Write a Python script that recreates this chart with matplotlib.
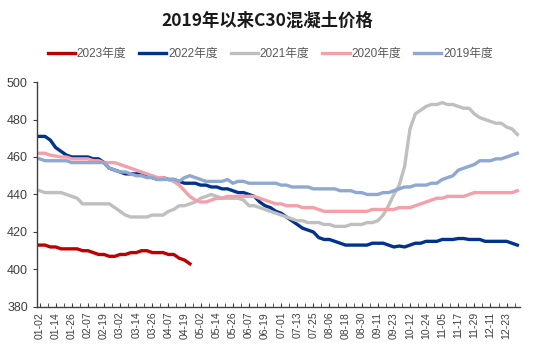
import numpy as np
import matplotlib
matplotlib.use("Agg")
import matplotlib.pyplot as plt
from matplotlib.ticker import MultipleLocator

plt.rcParams['font.family'] = ['Liberation Sans', 'Noto Sans CJK SC']

# 刻度标签（每12个交易日一个）
tick_labels = ['01-02', '01-14', '01-26', '02-07', '02-19', '03-02', '03-14', '03-26',
               '04-07', '04-19', '05-02', '05-14', '05-26', '06-07', '06-19', '07-01',
               '07-13', '07-25', '08-06', '08-18', '08-30', '09-11', '09-23', '10-12',
               '10-24', '11-05', '11-17', '11-29', '12-11', '12-23']

# 每4个交易日取一个读数
price_2023 = [413, 413, 412, 412, 411, 411, 411, 411, 410, 410, 409, 408, 408, 407, 407,
              408, 408, 409, 409, 410, 410, 409, 409, 409, 408, 408, 406, 405, 403]

price_2022 = [471, 471, 469, 465, 463, 461, 460, 460, 460, 460, 459, 459, 457, 454, 453,
              452, 451, 451, 451, 451, 450, 449, 448, 449, 448, 448, 447, 446, 446, 446,
              445, 445, 444, 444, 443, 443, 442, 441, 441, 440, 439, 436, 434, 433, 431,
              430, 428, 426, 424, 422, 421, 420, 417, 416, 416, 415, 414, 413, 413, 413,
              413, 413, 414, 414, 414, 413, 412, 412.5, 412, 413, 414, 414, 415, 415, 415,
              416, 416, 416, 416.5, 416.5, 416, 416, 416, 415, 415, 415, 415, 415, 414, 413]

price_2021 = [442, 441, 441, 441, 441, 440, 439, 438, 435, 435, 435, 435, 435, 435, 433,
              431, 429, 428, 428, 428, 428, 429, 429, 429, 431, 432, 434, 434, 435, 436,
              438, 439, 440, 439, 438, 438, 438, 438, 437, 434, 434, 433, 432, 431, 430,
              429, 428, 427, 426, 426, 425, 425, 425, 424, 424, 423, 423, 423, 424, 424,
              424, 425, 425, 426, 429, 434, 440, 445, 455, 475, 483, 485, 487, 488, 488,
              489, 488, 488, 487, 486, 486, 483, 481, 480, 479, 478, 478, 476, 475, 472]

price_2020 = [462, 462, 461, 460.5, 460, 460, 459, 459, 459, 459, 458, 458, 457, 457, 457,
              456, 455, 454, 453, 452, 451, 450, 449, 449, 448, 447, 445, 442, 439, 437,
              436, 436, 437, 438, 438, 439, 439, 439, 439, 439, 439, 438, 437, 436, 435,
              435, 434, 434, 434, 433, 433, 433, 432, 431, 431, 431, 431, 431, 431, 431,
              431, 431, 432, 432, 432, 432, 432, 433, 433, 433, 434, 435, 436, 437, 438,
              438, 439, 439, 439, 439, 440, 441, 441, 441, 441, 441, 441, 441, 441, 442]

price_2019 = [459, 458, 458, 458, 458, 458, 457, 457, 457, 457, 457, 457, 457, 454, 453,
              452, 452, 451, 450, 450, 449, 449, 448, 448, 448, 448, 447, 449, 450, 449,
              448, 447, 447, 447, 447, 448, 446, 447, 447, 446, 446, 446, 446, 446, 446,
              445, 445, 444, 444, 444, 444, 443, 443, 443, 443, 443, 442, 442, 442, 441,
              441, 440, 440, 440, 441, 441, 442, 443, 444, 444, 445, 445, 445, 446, 446,
              448, 449, 450, 453, 454, 455, 456, 458, 458, 458, 459, 459, 460, 461, 462]

series = [
    ('2023年度', price_2023, '#C00000'),
    ('2022年度', price_2022, '#00338D'),
    ('2021年度', price_2021, '#BFBFBF'),
    ('2020年度', price_2020, '#F4A0A8'),
    ('2019年度', price_2019, '#8EA8D2'),
]

fig = plt.figure(figsize=(5.35, 3.52), dpi=100)
ax = fig.add_axes([0.069, 0.128, 0.903, 0.639])

for name, vals, color in series:
    x = np.arange(len(vals)) * 4
    ax.plot(x, vals, color=color, lw=2.4, label=name, solid_joinstyle='round')

ax.set_xlim(-2, 358)
ax.set_ylim(380, 500)
ax.set_yticks(range(380, 501, 20))
ax.set_xticks(np.arange(len(tick_labels)) * 12)
ax.set_xticklabels(tick_labels, rotation=90, fontsize=7.5, color='#404040')
ax.xaxis.set_minor_locator(MultipleLocator(6))
ax.tick_params(axis='x', which='both', direction='in', length=3, color='#404040')
ax.tick_params(axis='y', direction='out', length=3, labelsize=9, labelcolor='#404040',
               color='#404040')

for s in ['top', 'right']:
    ax.spines[s].set_visible(False)
for s in ['left', 'bottom']:
    ax.spines[s].set_color('#404040')
    ax.spines[s].set_linewidth(1.0)

fig.text(0.5, 0.94, '2019年以来C30混凝土价格', ha='center', va='center',
         fontsize=12.5, fontweight='bold', color='#1a1a1a',
         family=['Noto Sans CJK SC'])

fig.legend(loc='center', bbox_to_anchor=(0.505, 0.847), ncol=5, frameon=False,
           fontsize=8.5, handlelength=2.3, handletextpad=0.15, columnspacing=1.1,
           labelcolor='#595959')

fig.savefig('out.png', dpi=100)
